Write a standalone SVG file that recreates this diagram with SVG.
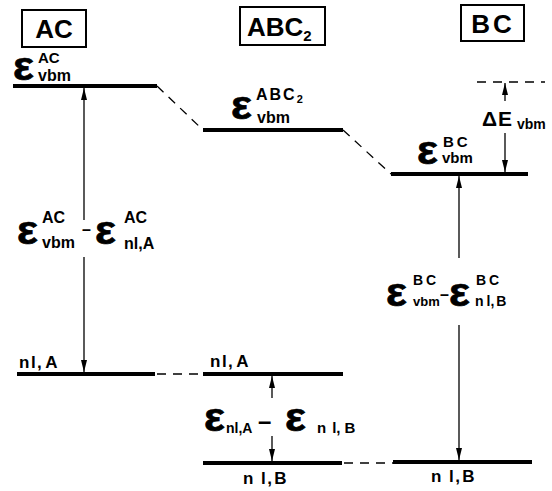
<svg xmlns="http://www.w3.org/2000/svg" width="552" height="491" viewBox="0 0 552 491">
  <style>
    text { font-family: "Liberation Sans", Arial, sans-serif; font-weight: bold; fill: #000; }
    .hdr { font-size: 26px; }
    .box { fill: #fff; stroke: #000; stroke-width: 2; }
    .eps { font-size: 40px; stroke: #000; stroke-width: 0.7; }
    .sc { font-size: 16px; }
    .ss { font-size: 14px; }
    .lbl { font-size: 17px; letter-spacing: 1.5px; }
    .level { stroke: #000; stroke-width: 4; fill: none; }
    .dash { stroke: #000; stroke-width: 1.3; fill: none; stroke-dasharray: 9 7; }
    .arrow { stroke: #000; stroke-width: 1.3; fill: none; marker-end: url(#head); }
  </style>
  <defs>
    <marker id="head" viewBox="0 0 12 6" refX="12" refY="3" markerWidth="12" markerHeight="6" markerUnits="userSpaceOnUse" orient="auto">
      <path d="M0,0 L12,3 L0,6 z" fill="#000"/>
    </marker>
  </defs>
  <rect width="552" height="491" fill="#fff"/>

  <!-- compound headers -->
  <g id="hdr-AC">
    <rect class="box" x="22" y="10" width="64" height="37"/>
    <text class="hdr" x="54" y="38" text-anchor="middle">AC</text>
  </g>
  <g id="hdr-ABC2">
    <rect class="box" x="240" y="7" width="85" height="38"/>
    <text class="hdr" x="247" y="36">ABC<tspan style="font-size:15px" dy="5">2</tspan></text>
  </g>
  <g id="hdr-BC">
    <rect class="box" x="461" y="5" width="63" height="36"/>
    <text class="hdr" x="493" y="33" text-anchor="middle" letter-spacing="3">BC</text>
  </g>

  <!-- valence band maxima -->
  <g id="vbm-AC">
    <line class="level" x1="13" y1="86" x2="157" y2="86"/>
    <text class="eps" transform="translate(13,80) scale(1.1,1)">ε</text>
    <text class="sc" x="38" y="63" style="font-size:15px">AC</text>
    <text class="sc" x="38" y="81">vbm</text>
  </g>
  <g id="vbm-ABC2">
    <line class="level" x1="203" y1="130" x2="343" y2="130"/>
    <text class="eps" transform="translate(231,119) scale(1.1,1)">ε</text>
    <text class="sc" x="256" y="100" letter-spacing="2">ABC<tspan style="font-size:11px" dy="3">2</tspan></text>
    <text class="sc" x="257" y="123">vbm</text>
  </g>
  <g id="vbm-BC">
    <line class="level" x1="391" y1="174" x2="528" y2="174"/>
    <text class="eps" transform="translate(417,164) scale(1.1,1)">ε</text>
    <text class="sc" x="443" y="147" style="font-size:15px" letter-spacing="3">BC</text>
    <text class="sc" x="442" y="163" style="font-size:15px">vbm</text>
  </g>

  <!-- core levels -->
  <g id="nlA-AC">
    <line class="level" x1="17" y1="374" x2="155" y2="374"/>
    <text class="lbl" x="19" y="368">nl,<tspan dx="2">A</tspan></text>
  </g>
  <g id="nlA-ABC2">
    <line class="level" x1="203" y1="374" x2="343" y2="374"/>
    <text class="lbl" x="210" y="367">nl,<tspan dx="2">A</tspan></text>
  </g>
  <g id="nlB-ABC2">
    <line class="level" x1="203" y1="463" x2="342" y2="463"/>
    <text class="lbl" x="243" y="484">n<tspan dx="6">l</tspan>,<tspan dx="1">B</tspan></text>
  </g>
  <g id="nlB-BC">
    <line class="level" x1="393" y1="462" x2="532" y2="462"/>
    <text class="lbl" x="431" y="482">n<tspan dx="6">l</tspan>,<tspan dx="1">B</tspan></text>
  </g>

  <!-- energy differences -->
  <g id="diff-AC">
    <text class="eps" transform="translate(17,244) scale(1.1,1)">ε</text>
    <text class="sc" x="42" y="223">AC</text>
    <text class="sc" x="42" y="248">vbm</text>
    <text class="sc" x="82" y="235">–</text>
    <text class="eps" transform="translate(95,244) scale(1.1,1)">ε</text>
    <text class="sc" x="124" y="223">AC</text>
    <text class="sc" x="124" y="249">nl,A</text>
  </g>
  <g id="diff-BC">
    <text class="eps" transform="translate(386,306) scale(1.1,1)">ε</text>
    <text class="ss" x="413" y="285" letter-spacing="3">BC</text>
    <text class="ss" x="413" y="306" style="font-size:13px">vbm</text>
    <text class="sc" x="440" y="300">–</text>
    <text class="eps" transform="translate(449,306) scale(1.1,1)">ε</text>
    <text class="ss" x="476" y="285" letter-spacing="3">BC</text>
    <text class="ss" x="475" y="306">n<tspan dx="3">l</tspan>,<tspan dx="2">B</tspan></text>
  </g>
  <g id="diff-core">
    <text class="eps" transform="translate(204,431) scale(1.1,1)">ε</text>
    <text class="ss" x="226" y="433">nl,A</text>
    <text class="sc" x="258" y="429" style="font-size:24px">–</text>
    <text class="eps" transform="translate(285,431) scale(1.1,1)">ε</text>
    <text class="ss" x="317" y="433" style="font-size:15px">n<tspan dx="6">l</tspan>,<tspan dx="4">B</tspan></text>
  </g>
  <g id="dE-vbm">
    <text class="sc" x="482" y="126" style="font-size:21px" letter-spacing="1">ΔE</text>
    <text class="ss" x="517" y="129">vbm</text>
  </g>

  <!-- connectors -->
  <g id="connectors">
    <line class="dash" x1="157" y1="86" x2="203" y2="130"/>
    <line class="dash" x1="343" y1="130" x2="391" y2="174"/>
    <line class="dash" x1="157" y1="374" x2="203" y2="374"/>
    <line class="dash" x1="344" y1="463" x2="393" y2="463"/>
    <line class="dash" x1="477" y1="82" x2="545" y2="82"/>

    <line class="arrow" x1="84" y1="220" x2="84" y2="88"/>
    <line class="arrow" x1="84" y1="257" x2="84" y2="372"/>
    <line class="arrow" x1="272" y1="398" x2="272" y2="376"/>
    <line class="arrow" x1="272" y1="436" x2="272" y2="461"/>
    <line class="arrow" x1="459" y1="258" x2="459" y2="176"/>
    <line class="arrow" x1="459" y1="325" x2="459" y2="460"/>
    <line class="arrow" x1="505" y1="101" x2="505" y2="83"/>
    <line class="arrow" x1="505" y1="133" x2="505" y2="172"/>
  </g>
</svg>
